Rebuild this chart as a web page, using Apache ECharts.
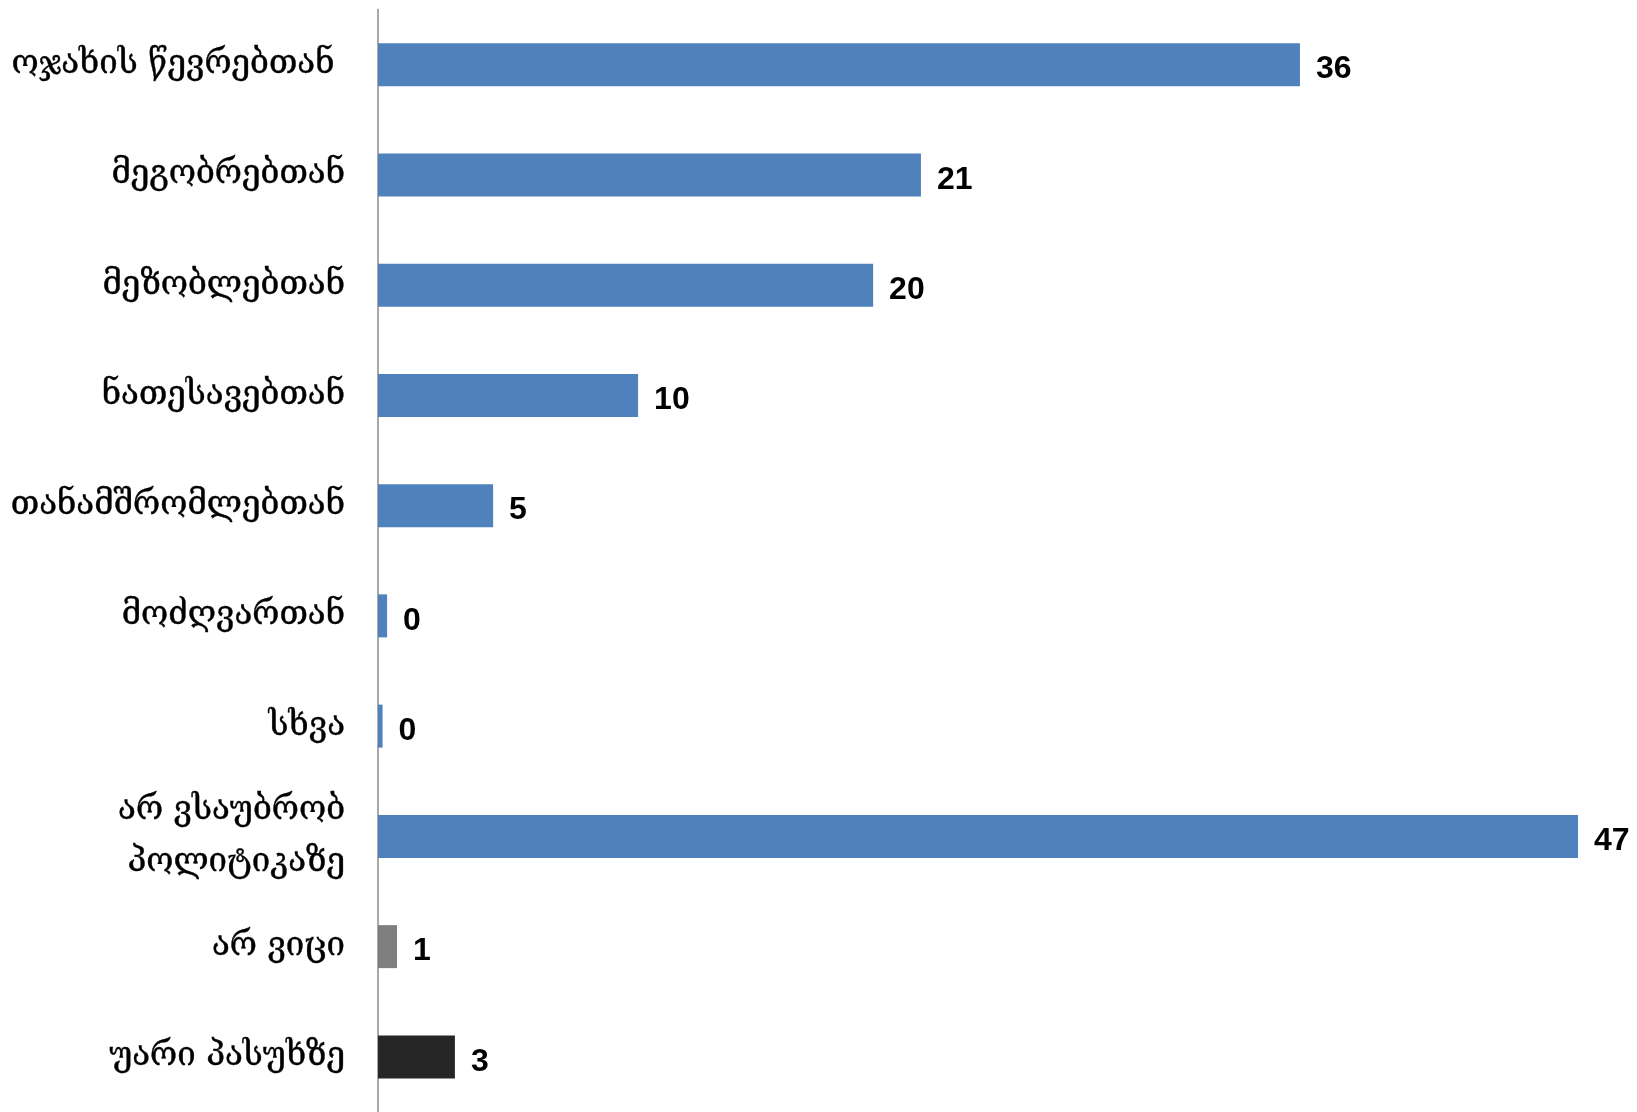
<!DOCTYPE html>
<html>
<head>
<meta charset="utf-8">
<script src="https://cdn.jsdelivr.net/npm/echarts@6/dist/echarts.min.js"></script>
<style>
html,body{margin:0;padding:0;background:#fff;}
#chart{width:1637px;height:1112px;}
</style>
</head>
<body>
<div id="chart"></div>
<script>
const categories = [
  "ოჯახის წევრებთან ",
  "მეგობრებთან",
  "მეზობლებთან",
  "ნათესავებთან",
  "თანამშრომლებთან",
  "მოძღვართან",
  "სხვა",
  "არ ვსაუბრობ\nპოლიტიკაზე",
  "არ ვიცი",
  "უარი პასუხზე"
];
const values = [36.44, 21.46, 19.57, 10.28, 4.55, 0.36, 0.18, 47.43, 0.75, 3.04];
const barColors = ["#4F81BD","#4F81BD","#4F81BD","#4F81BD","#4F81BD","#4F81BD","#4F81BD","#4F81BD","#7F7F7F","#262626"];

const chart = echarts.init(document.getElementById('chart'));
chart.setOption({
  animation: false,
  backgroundColor: '#fff',
  grid: { left: 378, top: 9.5, width: 1214.4, height: 1104, containLabel: false },
  xAxis: {
    type: 'value', min: 0, max: 48,
    show: false
  },
  yAxis: {
    type: 'category',
    data: categories,
    inverse: true,
    axisLine: { show: true, lineStyle: { color: '#8C8C8C', width: 1.5 } },
    axisTick: { show: false },
    axisLabel: {
      margin: 33,
      color: '#000',
      fontFamily: 'DejaVu Serif',
      fontSize: 33,
      lineHeight: 52,
      align: 'right',
      padding: [4, 0, 0, 0],
      textBorderColor: '#000',
      textBorderWidth: 0.4
    }
  },
  series: [{
    type: 'bar',
    barWidth: 43,
    data: values.map((v, i) => ({ value: v, itemStyle: { color: barColors[i] } })),
    label: {
      show: true,
      position: 'right',
      distance: 16,
      offset: [0, 5],
      color: '#000',
      fontFamily: 'Liberation Sans',
      fontWeight: 'bold',
      fontSize: 32,
      formatter: p => Math.round(p.value)
    }
  }]
});
</script>
</body>
</html>
